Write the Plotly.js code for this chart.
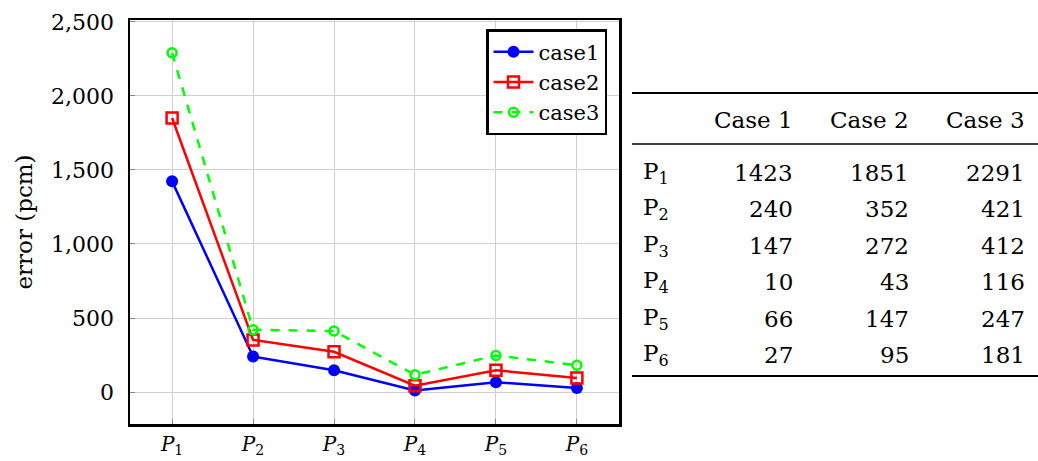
<!DOCTYPE html>
<html><head><meta charset="utf-8">
<script src="https://cdn.plot.ly/plotly-3.0.1.min.js"></script>
<style>html,body{margin:0;padding:0;background:#fff;}#chart{width:1038px;height:461px;}</style>
</head><body><div id="chart"></div>
<script>
const points = ["P1","P2","P3","P4","P5","P6"];
const subs = ["1","2","3","4","5","6"];
const case1 = [1423, 240, 147, 10, 66, 27];
const case2 = [1851, 352, 272, 43, 147, 95];
const case3 = [2291, 421, 412, 116, 247, 181];
const seriesNames = ["case1","case2","case3"];
const tableHeaders = ["Case 1","Case 2","Case 3"];
const yTicks = [0, 500, 1000, 1500, 2000, 2500];

const W = 1038, H = 461;
const L = 130, R = 619, T = 20, B = 424;
const px = x => (x - L) / (R - L);
const py = y => (B - y) / (B - T);
const FONT = "DejaVu Serif, Liberation Serif, serif";

const xs = points.map((_, i) => i);
const traces = [
  {x: xs, y: case1, name: seriesNames[0], type: "scatter", mode: "lines+markers",
   line: {color: "#0000ff", width: 2.5}, marker: {symbol: "circle", size: 12, color: "#0000ff"}},
  {x: xs, y: case2, name: seriesNames[1], type: "scatter", mode: "lines+markers",
   line: {color: "#ff0000", width: 2.5}, marker: {symbol: "square-open", size: 11, color: "#ff0000", line: {width: 2.5}}},
  {x: xs, y: case3, name: seriesNames[2], type: "scatter", mode: "lines+markers",
   line: {color: "#00ff00", width: 2.5, dash: "dash"}, marker: {symbol: "circle-open", size: 9, color: "#00ff00", line: {width: 2.5}}}
];

const shapes = [
  {type: "line", xref: "paper", yref: "paper", x0: px(632), x1: px(1038), y0: py(93), y1: py(93), line: {color: "#000", width: 2.2}},
  {type: "line", xref: "paper", yref: "paper", x0: px(632), x1: px(1038), y0: py(144), y1: py(144), line: {color: "#000", width: 1.3}},
  {type: "line", xref: "paper", yref: "paper", x0: px(632), x1: px(1038), y0: py(376), y1: py(376), line: {color: "#000", width: 2.2}}
];

const annotations = [];
const colRight = [795, 911, 1027];
const TS = 23;
tableHeaders.forEach((h, j) => annotations.push({
  xref: "paper", yref: "paper", x: px(colRight[j]), y: py(120), xanchor: "right", yanchor: "middle",
  text: h, showarrow: false, font: {family: FONT, size: TS, color: "#000"}
}));
const cols = [case1, case2, case3];
points.forEach((p, i) => {
  const yy = py(173 + i * 36.4);
  annotations.push({xref: "paper", yref: "paper", x: px(641), y: yy, xanchor: "left", yanchor: "middle",
    text: "P<sub>" + subs[i] + "</sub>", showarrow: false, font: {family: FONT, size: TS, color: "#000"}});
  cols.forEach((c, j) => annotations.push({xref: "paper", yref: "paper", x: px(colRight[j]), y: yy,
    xanchor: "right", yanchor: "middle", text: String(c[i]), showarrow: false,
    font: {family: FONT, size: TS, color: "#000"}}));
});

const layout = {
  width: W, height: H,
  margin: {l: L, r: W - R, t: T, b: H - B, pad: 0},
  paper_bgcolor: "#fff", plot_bgcolor: "#fff",
  font: {family: FONT, size: 21, color: "#000"},
  showlegend: true,
  legend: {x: px(607), y: py(29), xanchor: "right", yanchor: "top",
    bgcolor: "#fff", bordercolor: "#000", borderwidth: 2.5,
    font: {family: FONT, size: 21, color: "#000"}, tracegroupgap: 0, itemwidth: 40},
  xaxis: {range: [-0.52, 5.52], tickmode: "array", tickvals: xs,
    ticktext: subs.map(s => "<i>P</i><sub>" + s + "</sub>"),
    showgrid: true, gridcolor: "#d0d0d0", gridwidth: 1,
    showline: true, linecolor: "#000", linewidth: 2.5, mirror: true,
    ticks: "inside", ticklen: 5, tickcolor: "#888", zeroline: false,
    ticklabelstandoff: 0,
    tickfont: {family: FONT, size: 20}},
  yaxis: {range: [-216, 2513], tickmode: "array", tickvals: yTicks,
    tickformat: ",d", showgrid: true, gridcolor: "#d0d0d0", gridwidth: 1,
    showline: true, linecolor: "#000", linewidth: 2.5, mirror: true,
    ticks: "inside", ticklen: 5, tickcolor: "#888", zeroline: false,
    ticklabelstandoff: 9,
    title: {text: "error (pcm)", font: {family: FONT, size: 23}, standoff: 12},
    tickfont: {family: FONT, size: 22}},
  shapes: shapes,
  annotations: annotations
};

Plotly.newPlot("chart", traces, layout, {displayModeBar: false, staticPlot: true});
</script></body></html>
